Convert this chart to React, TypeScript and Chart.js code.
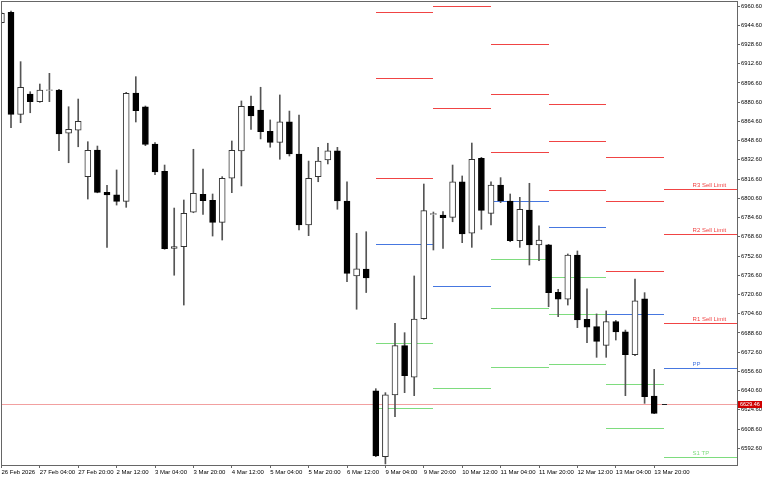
import React, { useEffect, useRef } from 'react';
import { Chart, registerables } from 'chart.js';
Chart.register(...registerables);

// ---- data ----
const tickIdx = [0, 4, 8, 12, 16, 20, 24, 28, 32, 36, 40, 44, 48, 52, 56, 60, 64, 68];
const tickLabels = ['26 Feb 2026', '27 Feb 04:00', '27 Feb 20:00', '2 Mar 12:00', '3 Mar 04:00', '3 Mar 20:00', '4 Mar 12:00', '5 Mar 04:00', '5 Mar 20:00', '6 Mar 12:00', '9 Mar 04:00', '9 Mar 20:00', '10 Mar 12:00', '11 Mar 04:00', '11 Mar 20:00', '12 Mar 12:00', '13 Mar 04:00', '13 Mar 20:00'];

const opens = [6946.7, 6955.4, 6870.5, 6887.4, 6881.0, 6890.4, 6890.7, 6854.7, 6857.4, 6818.6, 6840.8, 6805.6, 6803.4, 6798.1, 6888.2, 6876.8, 6845.8, 6823.1, 6759.0, 6760.4, 6789.0, 6803.9, 6798.9, 6780.6, 6817.3, 6840.0, 6877.2, 6874.1, 6856.4, 6847.2, 6864.3, 6837.5, 6778.4, 6818.6, 6832.5, 6840.2, 6798.4, 6736.0, 6741.8, 6640.5, 6585.6, 6637.0, 6678.0, 6651.7, 6700.4, 6787.1, 6786.7, 6784.8, 6814.4, 6771.5, 6833.9, 6788.1, 6811.7, 6798.4, 6765.3, 6790.9, 6761.8, 6761.8, 6722.4, 6716.6, 6753.4, 6699.9, 6693.8, 6678.3, 6698.0, 6689.6, 6670.5, 6716.9, 6636.1];
const highs = [6955.6, 6956.4, 6914.3, 6889.3, 6895.7, 6904.6, 6891.3, 6876.8, 6883.2, 6847.7, 6844.1, 6811.4, 6824.2, 6888.8, 6901.8, 6877.4, 6846.9, 6828.3, 6792.5, 6799.2, 6841.4, 6825.0, 6804.2, 6818.6, 6848.3, 6881.6, 6885.7, 6893.0, 6865.8, 6886.6, 6873.2, 6869.9, 6831.6, 6843.0, 6846.4, 6843.0, 6814.4, 6771.5, 6772.8, 6642.2, 6638.9, 6696.6, 6688.8, 6736.0, 6812.5, 6789.2, 6789.5, 6828.3, 6819.2, 6846.6, 6834.7, 6814.4, 6817.8, 6804.2, 6801.4, 6813.1, 6777.8, 6762.3, 6724.9, 6754.3, 6756.8, 6725.2, 6704.4, 6706.9, 6699.0, 6691.0, 6733.5, 6722.1, 6658.3];
const lows = [6946.5, 6859.4, 6863.5, 6871.8, 6880.5, 6881.0, 6840.2, 6830.2, 6843.5, 6800.0, 6805.2, 6759.8, 6795.0, 6793.1, 6864.1, 6844.4, 6820.3, 6758.2, 6736.6, 6711.8, 6788.6, 6787.3, 6769.2, 6765.9, 6805.3, 6810.9, 6858.0, 6850.0, 6843.1, 6833.1, 6835.8, 6774.2, 6769.5, 6814.4, 6829.2, 6791.5, 6731.2, 6708.3, 6722.2, 6585.6, 6579.6, 6618.9, 6638.9, 6636.4, 6700.0, 6757.6, 6759.0, 6781.1, 6763.7, 6759.8, 6774.8, 6778.4, 6797.0, 6764.5, 6759.8, 6745.1, 6748.7, 6710.4, 6702.1, 6711.8, 6693.0, 6680.5, 6668.3, 6668.3, 6682.7, 6636.4, 6669.7, 6630.0, 6621.4];
const closes = [6954.5, 6870.5, 6893.0, 6881.0, 6890.7, 6890.8, 6854.1, 6858.0, 6864.7, 6840.5, 6805.6, 6803.4, 6798.1, 6888.0, 6873.5, 6845.5, 6822.5, 6758.7, 6760.4, 6788.1, 6804.8, 6798.6, 6780.6, 6817.3, 6840.5, 6877.2, 6869.1, 6856.0, 6847.2, 6864.3, 6837.5, 6778.4, 6817.3, 6831.6, 6840.2, 6798.4, 6738.2, 6742.0, 6734.3, 6586.2, 6637.0, 6678.0, 6653.0, 6700.2, 6790.3, 6787.9, 6784.5, 6814.4, 6770.9, 6833.1, 6790.6, 6811.7, 6798.4, 6765.3, 6791.5, 6761.8, 6765.9, 6722.1, 6716.6, 6753.4, 6699.4, 6693.3, 6681.6, 6698.0, 6689.4, 6670.5, 6715.4, 6635.6, 6621.7];

// daily pivot segments (start bar index of each day)
const dayStarts = [39, 45, 51, 57, 63, 69];
const r3 = [6955.6, null, 6929.0, 6879.3, 6834.7, 6808.1];
const r2 = [6900.7, 6960.6, 6887.8, 6848.7, 6798.1, 6770.7];
const r1 = [6817.5, 6875.7, 6839.4, 6807.3, 6739.9, 6696.6];
const pp = [6763.0, 6727.4, 6798.1, 6776.5, 6704.1, 6659.2];
const s1 = [6680.0, 6642.5, 6749.9, 6735.1, 6645.9, 6585.1];
const s2 = [6625.9, null, 6709.1, 6704.1, 6609.8, null];
const s3 = [null, null, 6660.5, 6662.5, null, null];

const lastPrice = 6629.46;
const yTickStart = 6592.6;
const yTickStep = 16;
const yTickCount = 24;

// ---- view ----
const X_MIN = -0.042;
const X_MAX = 76.625;
const Y_MIN = 6578.71;
const Y_MAX = 6964.77;
const LABEL_IDX = 72.0;
const LAST_TICK = [68.8, 69.35];

const RED = '#f04444';
const BLUE = '#4677e0';
const GREEN = '#7edc7e';
const FONT = 'Liberation Sans';

const levels = [
  { vals: r3, color: RED, tag: 'R3 Sell Limit' },
  { vals: r2, color: RED, tag: 'R2 Sell Limit' },
  { vals: r1, color: RED, tag: 'R1 Sell Limit' },
  { vals: pp, color: BLUE, tag: 'PP' },
  { vals: s1, color: GREEN, tag: 'S1 TP' },
  { vals: s2, color: GREEN, tag: '' },
  { vals: s3, color: GREEN, tag: '' },
];

const crisp = (v: number) => Math.round(v) + 0.5;

const overlay = {
  id: 'overlay',
  beforeDatasetsDraw(chart: any) {
    const { ctx, chartArea, scales } = chart;
    const x = scales.x, y = scales.y;
    ctx.save();
    ctx.beginPath();
    ctx.rect(chartArea.left, chartArea.top, chartArea.right - chartArea.left, chartArea.bottom - chartArea.top);
    ctx.clip();
    ctx.lineWidth = 1;
    // current price line
    ctx.strokeStyle = '#f2a0a0';
    ctx.beginPath();
    const py = crisp(y.getPixelForValue(lastPrice));
    ctx.moveTo(chartArea.left, py);
    ctx.lineTo(chartArea.right, py);
    ctx.stroke();
    // pivot segments
    levels.forEach((l) => {
      ctx.strokeStyle = l.color;
      l.vals.forEach((v, i) => {
        if (v == null) return;
        const a = dayStarts[i];
        const b = i + 1 < dayStarts.length ? dayStarts[i + 1] : X_MAX;
        const yy = crisp(y.getPixelForValue(v));
        ctx.beginPath();
        ctx.moveTo(Math.round(x.getPixelForValue(a)), yy);
        ctx.lineTo(Math.round(x.getPixelForValue(b)), yy);
        ctx.stroke();
      });
    });
    // last tick marker
    ctx.strokeStyle = '#222';
    ctx.beginPath();
    ctx.moveTo(Math.round(x.getPixelForValue(LAST_TICK[0])), py);
    ctx.lineTo(Math.round(x.getPixelForValue(LAST_TICK[1])), py);
    ctx.stroke();
    ctx.restore();
  },
  afterDatasetsDraw(chart: any) {
    const { ctx, scales } = chart;
    const x = scales.x, y = scales.y;
    ctx.save();
    ctx.font = `6px "${FONT}"`;
    ctx.textBaseline = 'alphabetic';
    ctx.textAlign = 'left';
    levels.forEach((l) => {
      const v = l.vals[l.vals.length - 1];
      if (v == null || !l.tag) return;
      ctx.fillStyle = l.color;
      ctx.fillText(l.tag, x.getPixelForValue(LABEL_IDX), Math.round(y.getPixelForValue(v)) - 2.5);
    });
    ctx.restore();
  },
  afterDraw(chart: any) {
    const { ctx, chartArea, scales } = chart;
    ctx.save();
    ctx.strokeStyle = '#666';
    ctx.lineWidth = 1;
    ctx.strokeRect(crisp(chartArea.left), crisp(chartArea.top),
      Math.round(chartArea.right - chartArea.left), Math.round(chartArea.bottom - chartArea.top));
    const py = Math.round(scales.y.getPixelForValue(lastPrice));
    ctx.fillStyle = '#d00000';
    ctx.fillRect(Math.round(chartArea.right) + 1, py - 3, 24, 7);
    ctx.fillStyle = '#fff';
    ctx.font = `5.5px "${FONT}"`;
    ctx.textBaseline = 'middle';
    ctx.textAlign = 'left';
    ctx.fillText(lastPrice.toFixed(2), Math.round(chartArea.right) + 3, py + 0.8);
    ctx.restore();
  },
};

export default function App() {
  const ref = useRef<HTMLCanvasElement | null>(null);
  useEffect(() => {
    if (!ref.current) return;
    const idx = opens.map((_, i) => i);
    const bodies = idx.map((i) => ({ x: i, y: [opens[i], closes[i] === opens[i] ? closes[i] + 0.3 : closes[i]] }));
    const wicks = idx.map((i) => ({ x: i, y: [lows[i], highs[i]] }));
    const bodyBg = idx.map((i) => (closes[i] >= opens[i] ? '#ffffff' : '#000000'));
    const bodyBorder = idx.map((i) => (closes[i] >= opens[i] ? '#333333' : '#000000'));

    const chart = new Chart(ref.current, {
      type: 'bar',
      data: {
        datasets: [
          {
            type: 'bar',
            label: 'body',
            data: bodies as any,
            backgroundColor: bodyBg,
            borderColor: bodyBorder,
            borderWidth: 1,
            borderSkipped: false,
            barThickness: 6,
            grouped: false,
            order: 0,
          } as any,
          {
            type: 'bar',
            label: 'wick',
            data: wicks as any,
            backgroundColor: '#555555',
            borderWidth: 0,
            barThickness: 1,
            grouped: false,
            order: 1,
          } as any,
        ],
      },
      options: {
        responsive: false,
        animation: false,
        devicePixelRatio: 1,
        layout: { padding: { left: 1, top: 1, right: 0, bottom: 0 } },
        plugins: { legend: { display: false }, tooltip: { enabled: false } },
        scales: {
          x: {
            type: 'linear',
            min: X_MIN,
            max: X_MAX,
            offset: false,
            position: 'bottom',
            afterBuildTicks: (s: any) => { s.ticks = tickIdx.map((v) => ({ value: v })); },
            afterFit: (s: any) => { s.height = 15; s.paddingLeft = 0; s.paddingRight = 0; },
            grid: { display: true, drawOnChartArea: false, drawTicks: true, tickLength: 3, color: '#666', offset: false },
            border: { display: true, color: '#666' },
            ticks: {
              autoSkip: false,
              maxRotation: 0,
              minRotation: 0,
              align: 'start',
              padding: 1,
              color: '#000',
              font: { family: FONT, size: 6 },
              callback: (_v: any, i: number) => tickLabels[i],
            },
          },
          y: {
            type: 'linear',
            position: 'right',
            min: Y_MIN,
            max: Y_MAX,
            afterBuildTicks: (s: any) => {
              s.ticks = Array.from({ length: yTickCount }, (_, k) => ({ value: yTickStart + k * yTickStep }));
            },
            afterFit: (s: any) => { s.width = 31; s.paddingTop = 0; s.paddingBottom = 0; },
            grid: { display: true, drawOnChartArea: false, drawTicks: true, tickLength: 3, color: '#666' },
            border: { display: true, color: '#666' },
            ticks: {
              autoSkip: false,
              padding: 1,
              color: '#000',
              font: { family: FONT, size: 5.8 },
              callback: (v: any) => Number(v).toFixed(2),
            },
          },
        },
      },
      plugins: [overlay],
    } as any);
    return () => chart.destroy();
  }, []);
  return (
    <div style={{ position: 'fixed', left: 0, top: 0, width: 768, height: 480, background: '#fff' }}>
      <canvas ref={ref} width={768} height={480} style={{ display: 'block' }} />
    </div>
  );
}
